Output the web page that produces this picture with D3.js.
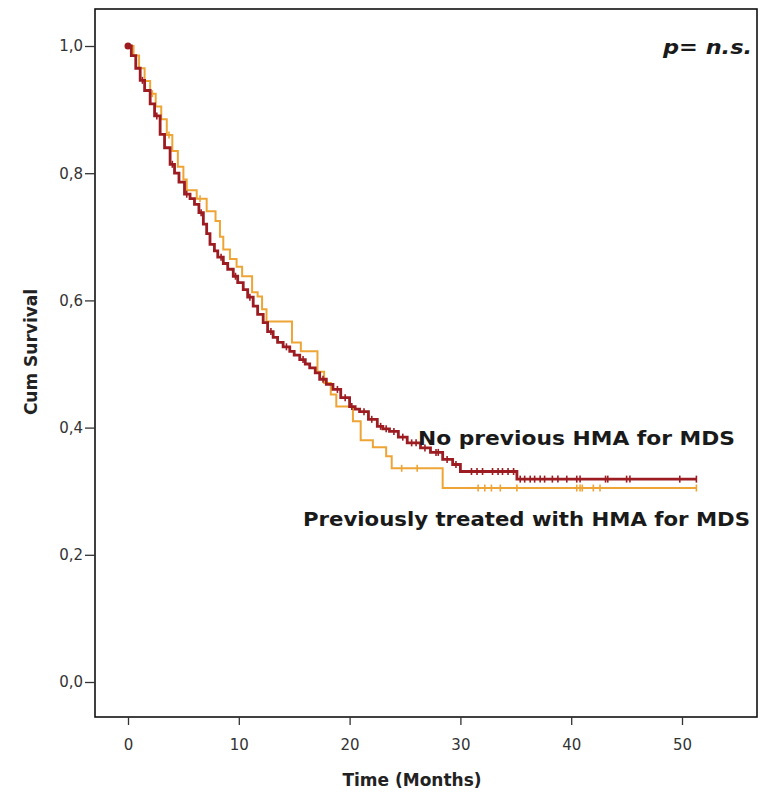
<!DOCTYPE html>
<html>
<head>
<meta charset="utf-8">
<script src="https://cdn.jsdelivr.net/npm/d3@7"></script>
<style>
  body { margin: 0; background: #fff; }
  text { font-family: "DejaVu Sans", sans-serif; fill: #222; }
</style>
</head>
<body>
<svg></svg>
<script>
// data
var xTicks = [0, 10, 20, 30, 40, 50];
var yTicks = [0, 0.2, 0.4, 0.6, 0.8, 1.0];

// no previous HMA for MDS (step times and survival after each step)
var redT = [0,0.3,0.7,1.1,1.5,2.0,2.4,2.9,3.3,3.8,4.2,4.6,5.1,5.6,6.0,6.4,6.8,7.1,7.4,7.8,
            8.1,8.6,9.0,9.5,9.9,10.4,10.8,11.3,11.7,12.2,12.6,13.1,13.5,14.0,14.6,15.0,15.5,16.0,16.4,16.9,
            17.3,17.9,18.5,19.2,20.0,20.5,20.9,21.7,22.5,23.0,23.6,24.4,25.2,26.4,27.3,28.4,29.3,30.0,35.1];
var redS = [1.0,0.985,0.965,0.946,0.93,0.909,0.89,0.861,0.84,0.814,0.80,0.786,0.767,0.76,0.751,0.738,0.72,0.705,0.688,0.678,
            0.668,0.658,0.649,0.638,0.628,0.617,0.605,0.591,0.578,0.565,0.551,0.542,0.534,0.527,0.52,0.514,0.507,0.50,0.494,0.486,
            0.476,0.468,0.46,0.447,0.433,0.429,0.425,0.413,0.402,0.398,0.394,0.385,0.376,0.368,0.361,0.35,0.342,0.331,0.319];
var redCensor = [1.3,2.6,4.0,5.3,6.6,8.4,9.7,11.0,12.9,14.3,15.8,17.6,18.9,19.6,20.2,21.3,22.0,22.8,23.3,24.0,
                 24.8,25.6,26.0,26.8,27.8,28.0,28.8,29.6,31.0,31.5,32.0,32.9,33.4,33.8,34.3,34.8,
                 35.4,35.8,36.3,36.7,37.2,37.6,38.3,38.8,39.6,40.5,40.8,43.1,43.3,45.0,45.3,49.8,51.3];
var redEnd = 51.3;

// previously treated with HMA for MDS
var orT = [0,0.5,1.0,1.5,2.0,2.5,3.0,3.5,4.0,4.5,5.0,5.3,6.2,7.1,7.9,8.3,8.6,9.2,9.8,10.3,
           11.2,11.7,12.1,12.5,14.8,15.6,17.1,17.7,18.3,18.8,20.3,21.0,22.1,23.3,23.8,28.4];
var orS = [1.0,0.985,0.965,0.945,0.925,0.905,0.885,0.86,0.835,0.81,0.79,0.773,0.76,0.74,0.725,0.70,0.68,0.665,0.653,0.638,
           0.613,0.606,0.586,0.567,0.534,0.52,0.488,0.47,0.452,0.433,0.41,0.38,0.369,0.355,0.336,0.305];
var orCensor = [2.2,3.7,6.5,24.7,26.1,31.6,32.2,32.8,33.6,35.1,40.5,40.8,41.0,42.0,42.6,51.3];
var orEnd = 51.3;

var screen = { width: 764, height: 795 };
var frame = { left: 95, right: 757, top: 9, bottom: 717 };

var svg = d3.select('svg')
  .attr('width', screen.width)
  .attr('height', screen.height);

var xScale = d3.scaleLinear().domain([0, 50]).range([128, 682]);
var yScale = d3.scaleLinear().domain([0, 1]).range([682, 46]);

// frame
svg.append('rect')
  .attr('x', frame.left).attr('y', frame.top)
  .attr('width', frame.right - frame.left)
  .attr('height', frame.bottom - frame.top)
  .attr('fill', 'none').attr('stroke', '#111').attr('stroke-width', 1.6);

// axes
var xAxis = d3.axisBottom(xScale).tickValues(xTicks).tickSize(8).tickSizeOuter(0)
  .tickFormat(d3.format('d'));
var gx = svg.append('g').attr('transform', 'translate(0,' + frame.bottom + ')').call(xAxis);
gx.select('.domain').remove();
gx.selectAll('line').attr('stroke', '#333').attr('stroke-width', 1.3);
gx.selectAll('text').attr('y', 18).attr('dy', '1em').style('font-size', '15px').style('fill', '#333');

var yAxis = d3.axisLeft(yScale).tickValues(yTicks).tickSize(10).tickSizeOuter(0)
  .tickFormat(function(d){ return d3.format('.1f')(d).replace('.', ','); });
var gy = svg.append('g').attr('transform', 'translate(' + frame.left + ',0)').call(yAxis);
gy.select('.domain').remove();
gy.selectAll('line').attr('stroke', '#333').attr('stroke-width', 1.3);
gy.selectAll('text').attr('x', -12).style('font-size', '15px').style('fill', '#333');

// axis titles
svg.append('text')
  .attr('x', 412).attr('y', 786)
  .attr('text-anchor', 'middle')
  .style('font-size', '17px').style('font-weight', 'bold')
  .text('Time (Months)');
svg.append('text')
  .attr('transform', 'translate(37,352) rotate(-90)')
  .attr('text-anchor', 'middle')
  .style('font-size', '17px').style('font-weight', 'bold')
  .text('Cum Survival');

// km curves
function stepPoints(ts, ss, end) {
  var pts = ts.map(function(t, i){ return [t, ss[i]]; });
  pts.push([end, ss[ss.length - 1]]);
  return pts;
}
function survAt(ts, ss, t) {
  var i = d3.bisectRight(ts, t) - 1;
  return ss[Math.max(i, 0)];
}
var line = d3.line()
  .x(function(d){ return xScale(d[0]); })
  .y(function(d){ return yScale(d[1]); })
  .curve(d3.curveStepAfter);

var plot = svg.append('g');

function drawCurve(ts, ss, end, censor, color, width) {
  plot.append('path')
    .datum(stepPoints(ts, ss, end))
    .attr('d', line)
    .attr('fill', 'none')
    .attr('stroke', color)
    .attr('stroke-width', width);
  plot.selectAll(null)
    .data(censor)
    .enter().append('line')
    .attr('x1', function(d){ return xScale(d); })
    .attr('x2', function(d){ return xScale(d); })
    .attr('y1', function(d){ return yScale(survAt(ts, ss, d)) - 3.5; })
    .attr('y2', function(d){ return yScale(survAt(ts, ss, d)) + 3.5; })
    .attr('stroke', color)
    .attr('stroke-width', 1.6);
}

drawCurve(orT, orS, orEnd, orCensor, '#eea536', 2);
drawCurve(redT, redS, redEnd, redCensor, '#9c1c22', 2.8);

plot.append('circle')
  .attr('cx', xScale(0)).attr('cy', yScale(1))
  .attr('r', 3.5).attr('fill', '#9c1c22');

// labels
svg.append('text')
  .attr('x', 418).attr('y', 445)
  .attr('textLength', 317).attr('lengthAdjust', 'spacingAndGlyphs')
  .style('font-size', '19px').style('font-weight', 'bold').style('fill', '#1a1a1a')
  .text('No previous HMA for MDS');
svg.append('text')
  .attr('x', 303).attr('y', 526)
  .attr('textLength', 447).attr('lengthAdjust', 'spacingAndGlyphs')
  .style('font-size', '19px').style('font-weight', 'bold').style('fill', '#1a1a1a')
  .text('Previously treated with HMA for MDS');
svg.append('text')
  .attr('x', 663).attr('y', 54)
  .attr('textLength', 89).attr('lengthAdjust', 'spacingAndGlyphs')
  .style('font-size', '19px').style('font-weight', 'bold').style('font-style', 'italic')
  .style('fill', '#1a1a1a')
  .text('p= n.s.');
</script>
</body>
</html>
